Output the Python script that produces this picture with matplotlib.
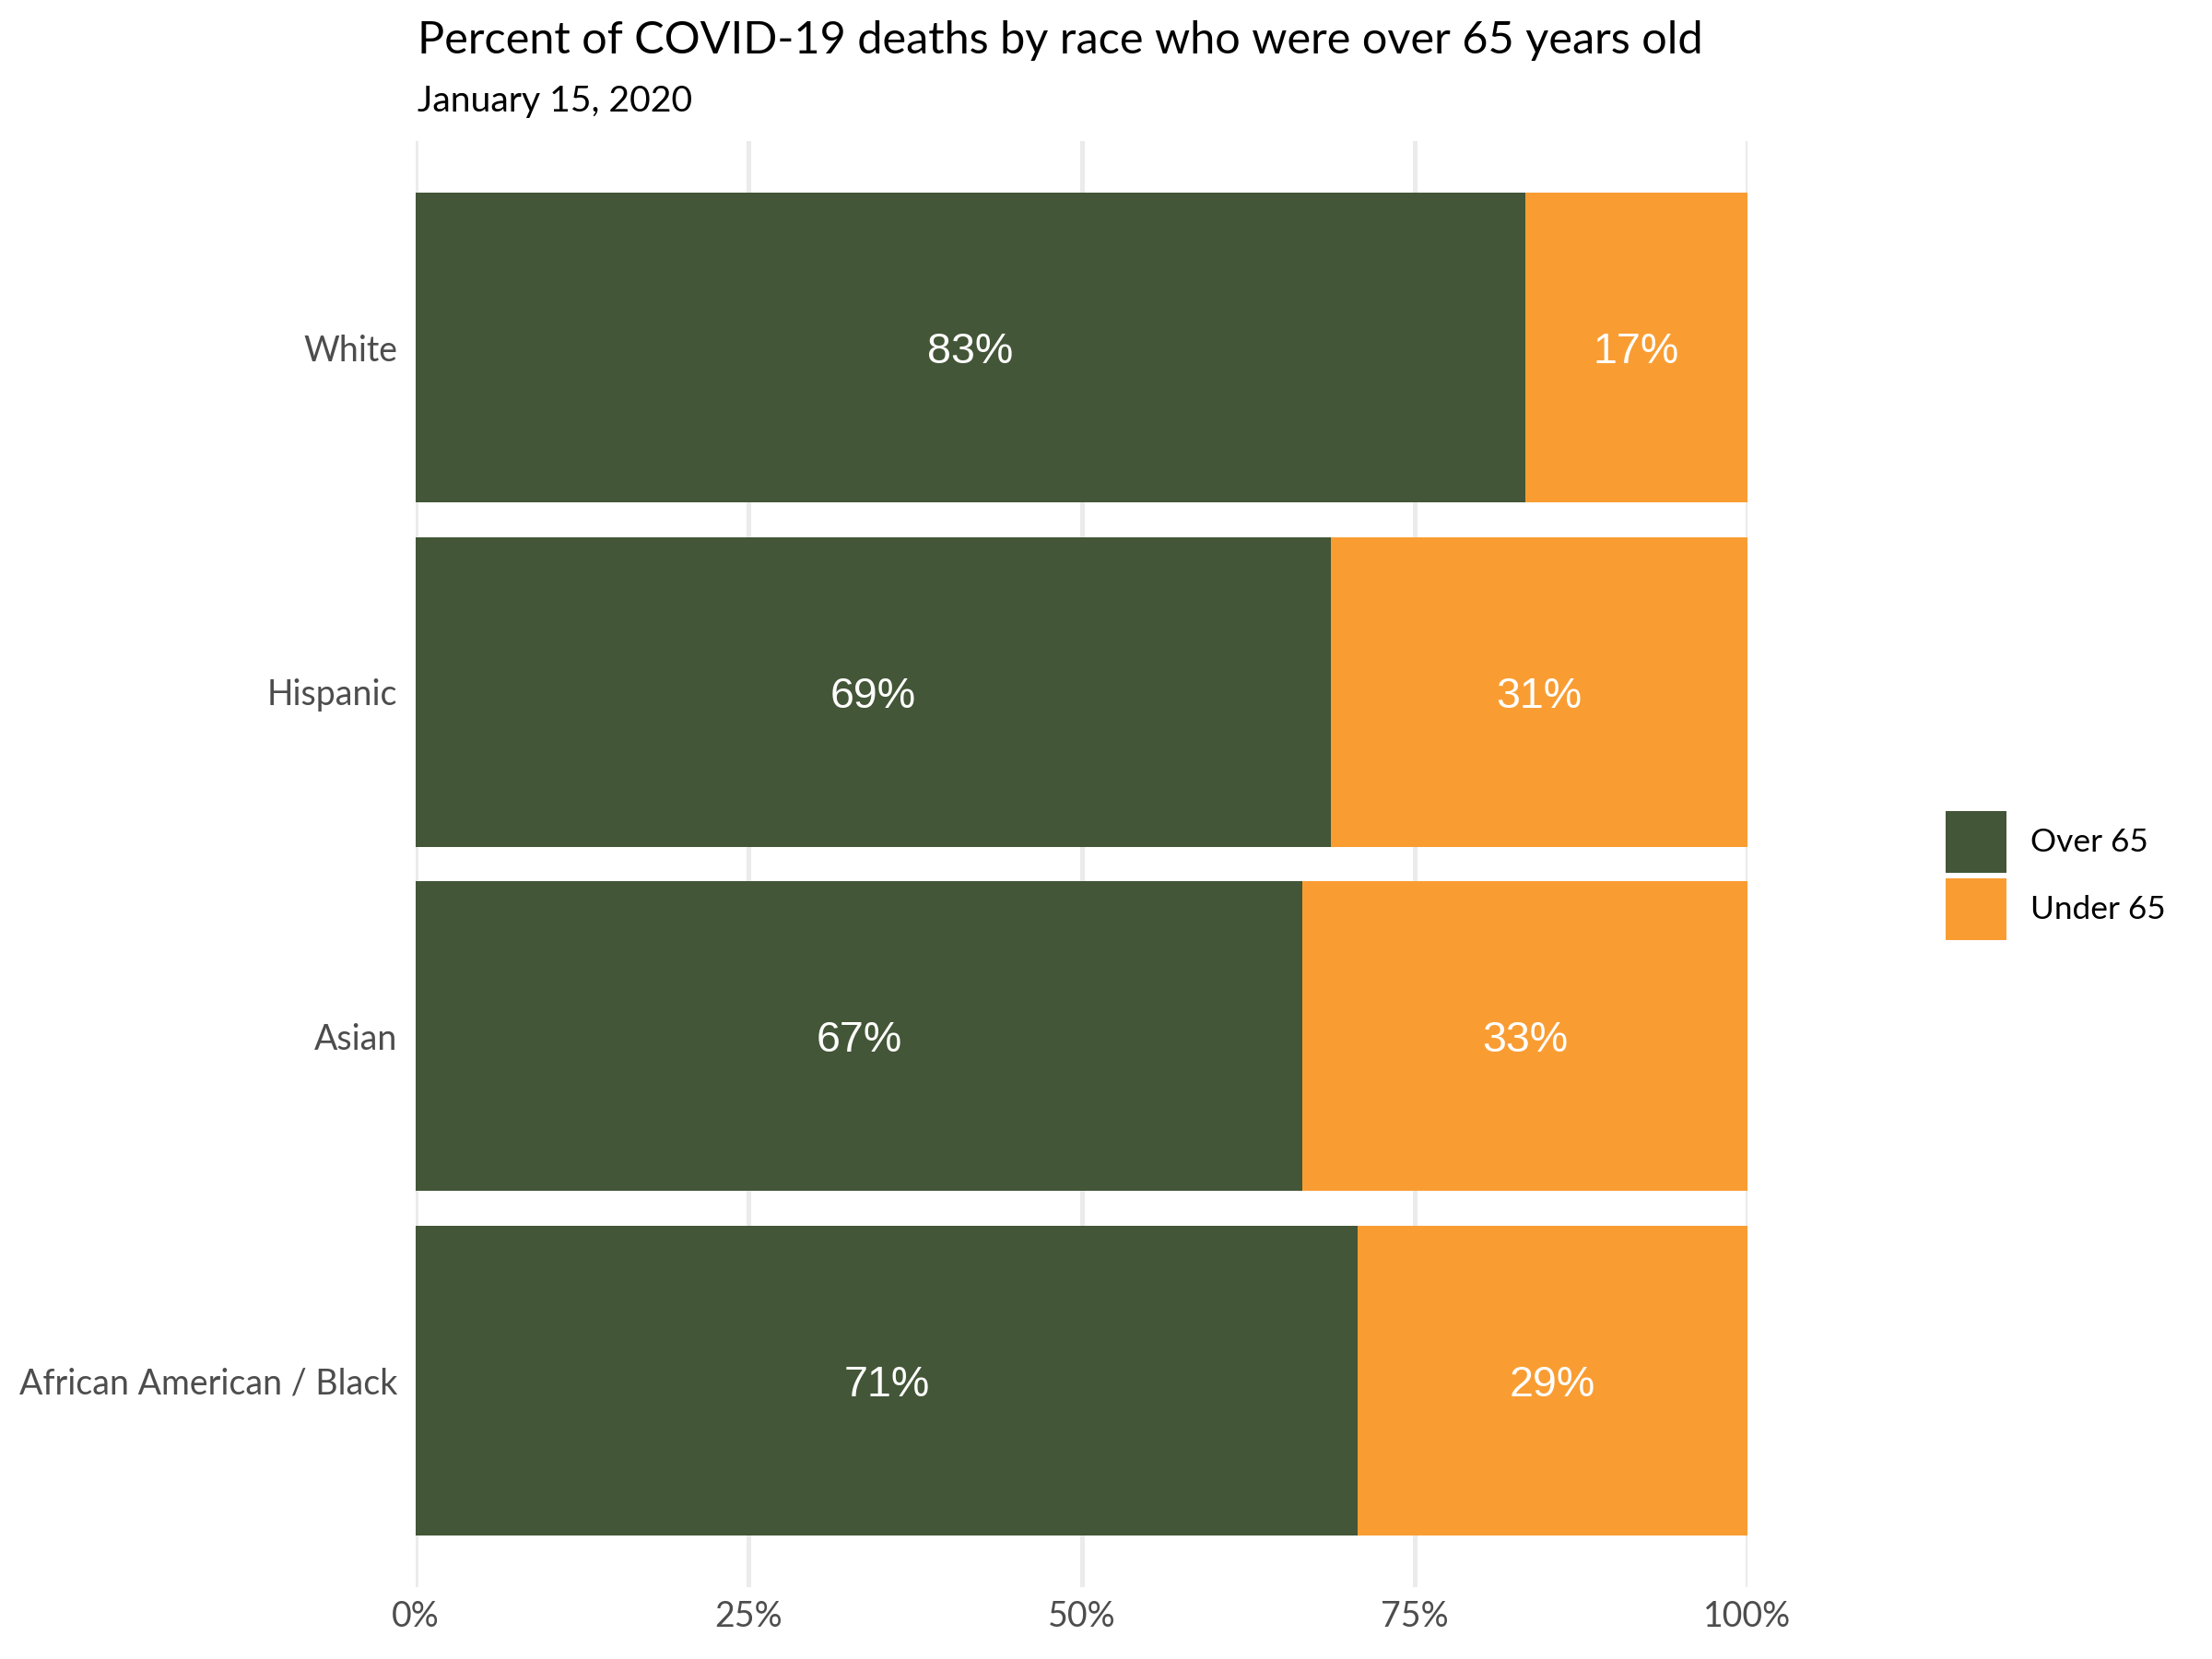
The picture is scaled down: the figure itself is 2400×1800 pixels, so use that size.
import matplotlib
matplotlib.use("Agg")
import matplotlib.pyplot as plt
from matplotlib.patches import Patch

# ---- data ----
races = ["African American / Black", "Asian", "Hispanic", "White"]
over65 = [70.7, 66.6, 68.7, 83.3]
under65 = [100 - v for v in over65]
over_labels = ["71%", "67%", "69%", "83%"]
under_labels = ["29%", "33%", "31%", "17%"]
xticks = [0, 25, 50, 75, 100]
xticklabels = ["0%", "25%", "50%", "75%", "100%"]
series_names = ["Over 65", "Under 65"]

title = "Percent of COVID-19 deaths by race who were over 65 years old"
subtitle = "January 15, 2020"

GREEN = "#435637"
ORANGE = "#F99D33"
GRID = "#EBEBEB"
TICK = "#4D4D4D"

fig = plt.figure(figsize=(12, 9), dpi=200)
ax = fig.add_axes([451 / 2400, 1 - 1722 / 1800, 1445 / 2400, 1569 / 1800])

ypos = list(range(1, len(races) + 1))
ax.barh(ypos, over65, height=0.9, color=GREEN, zorder=2)
ax.barh(ypos, under65, left=over65, height=0.9, color=ORANGE, zorder=2)

for y, o, u, ol, ul in zip(ypos, over65, under65, over_labels, under_labels):
    ax.text(o / 2, y, ol, ha="center", va="center_baseline", color="white",
            fontsize=16.8, family="Liberation Sans", zorder=3)
    ax.text(o + u / 2, y, ul, ha="center", va="center_baseline", color="white",
            fontsize=16.8, family="Liberation Sans", zorder=3)

ax.set_xlim(0, 100)
ax.set_ylim(0.4, len(races) + 0.6)
ax.set_xticks(xticks)
ax.set_xticklabels(xticklabels, family="Lato", fontsize=13.5, color=TICK)
ax.set_yticks(ypos)
ax.set_yticklabels(races, family="Lato", fontsize=13.5, color=TICK)
ax.tick_params(axis="both", length=0)
ax.tick_params(axis="x", pad=5)
ax.tick_params(axis="y", pad=7)
ax.xaxis.grid(True, color=GRID, linewidth=1.8, zorder=0)
ax.yaxis.grid(False)
ax.set_axisbelow(True)
for s in ax.spines.values():
    s.set_visible(False)

fig.text(453 / 2400, 1 - 58 / 1800, title, family="Lato", fontsize=17.5,
         color="black", ha="left", va="baseline")
fig.text(453 / 2400, 1 - 121 / 1800, subtitle, family="Lato", fontsize=14.1,
         color="black", ha="left", va="baseline")

handles = [Patch(facecolor=GREEN, edgecolor="none"),
           Patch(facecolor=ORANGE, edgecolor="none")]
leg = fig.legend(handles, series_names, loc="center left",
                 bbox_to_anchor=(2111 / 2400, 1 - 950 / 1800),
                 frameon=False, prop={"family": "Lato", "size": 12.7},
                 handlelength=1.87, handleheight=2.57, labelspacing=0.15,
                 handletextpad=0.75, borderpad=0, borderaxespad=0)

fig.savefig("out.png", dpi=200, facecolor="white")
